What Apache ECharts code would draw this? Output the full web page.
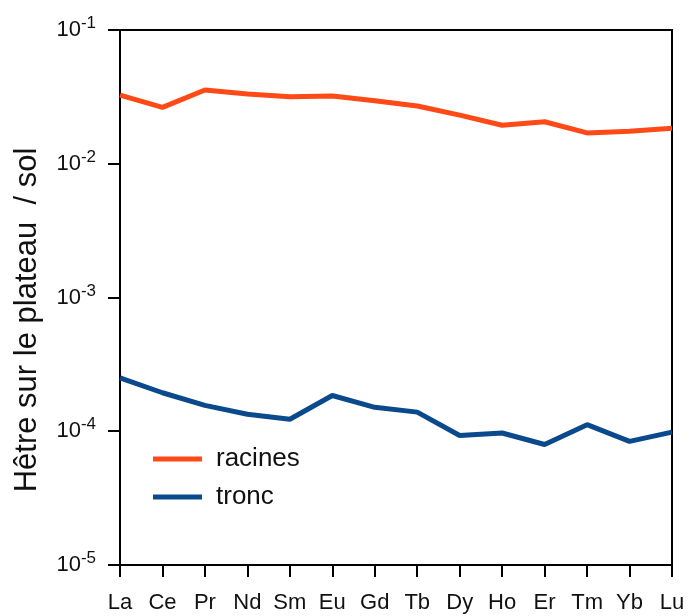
<!DOCTYPE html>
<html><head><meta charset="utf-8">
<script src="https://cdn.jsdelivr.net/npm/echarts@6/dist/echarts.min.js"></script>
<style>html,body{margin:0;padding:0;background:#fff}#c{width:698px;height:616px}</style>
</head><body><div id="c"></div>
<script>
const categories = ['La','Ce','Pr','Nd','Sm','Eu','Gd','Tb','Dy','Ho','Er','Tm','Yb','Lu'];
const racines = [0.0326,0.0264,0.0356,0.0332,0.0317,0.0321,0.0296,0.0270,0.0231,0.0194,0.0206,0.0170,0.0175,0.0184];
const tronc = [2.51e-4,1.94e-4,1.56e-4,1.34e-4,1.23e-4,1.85e-4,1.51e-4,1.39e-4,9.3e-5,9.7e-5,7.96e-5,1.12e-4,8.4e-5,9.85e-5];
const yTitle = 'Hêtre sur le plateau  / sol';
const FONT = 'Liberation Sans, Arial, sans-serif';

const chart = echarts.init(document.getElementById('c'));
chart.setOption({
  animation:false,
  backgroundColor:'#fff',
  grid:{left:120,right:26,top:30,bottom:51,show:true,borderColor:'#000',borderWidth:2,backgroundColor:'transparent'},
  legend:{
    orient:'vertical',left:148,top:441,itemWidth:49,itemHeight:5,itemGap:12,icon:'rect',
    textStyle:{fontFamily:FONT,fontSize:26,color:'#111',padding:[0,0,0,9]},
    data:['racines','tronc']
  },
  xAxis:{
    type:'category',data:categories,boundaryGap:false,
    axisLine:{lineStyle:{color:'#000',width:2}},
    axisTick:{show:true,length:12,lineStyle:{color:'#000',width:2},alignWithLabel:true},
    axisLabel:{fontFamily:FONT,fontSize:22,color:'#111',margin:27,interval:0},
    splitLine:{show:false}
  },
  yAxis:{
    type:'log',logBase:10,min:1e-5,max:0.1,
    axisLine:{show:true,lineStyle:{color:'#000',width:2}},
    axisTick:{show:true,length:12,lineStyle:{color:'#000',width:2}},
    minorTick:{show:false},
    splitLine:{show:false},
    axisLabel:{
      margin:24,
      formatter:function(v){const e=Math.round(Math.log10(v));return '{b|10}{s|'+e+'}';},
      rich:{
        b:{fontFamily:FONT,fontSize:22,color:'#111'},
        s:{fontFamily:FONT,fontSize:17,color:'#111',verticalAlign:'bottom',padding:[0,0,13,0]}
      }
    }
  },
  graphic:[{
    type:'text',x:27,y:320,rotation:Math.PI/2,
    style:{text:yTitle,fontFamily:FONT,fontSize:31,fill:'#111',textAlign:'center',textVerticalAlign:'middle'}
  }],
  series:[
    {name:'racines',type:'line',data:racines,showSymbol:false,symbol:'none',
     lineStyle:{color:'#ff4a17',width:5},itemStyle:{color:'#ff4a17'}},
    {name:'tronc',type:'line',data:tronc,showSymbol:false,symbol:'none',
     lineStyle:{color:'#0a4a8c',width:5},itemStyle:{color:'#0a4a8c'}}
  ]
});
</script></body></html>
